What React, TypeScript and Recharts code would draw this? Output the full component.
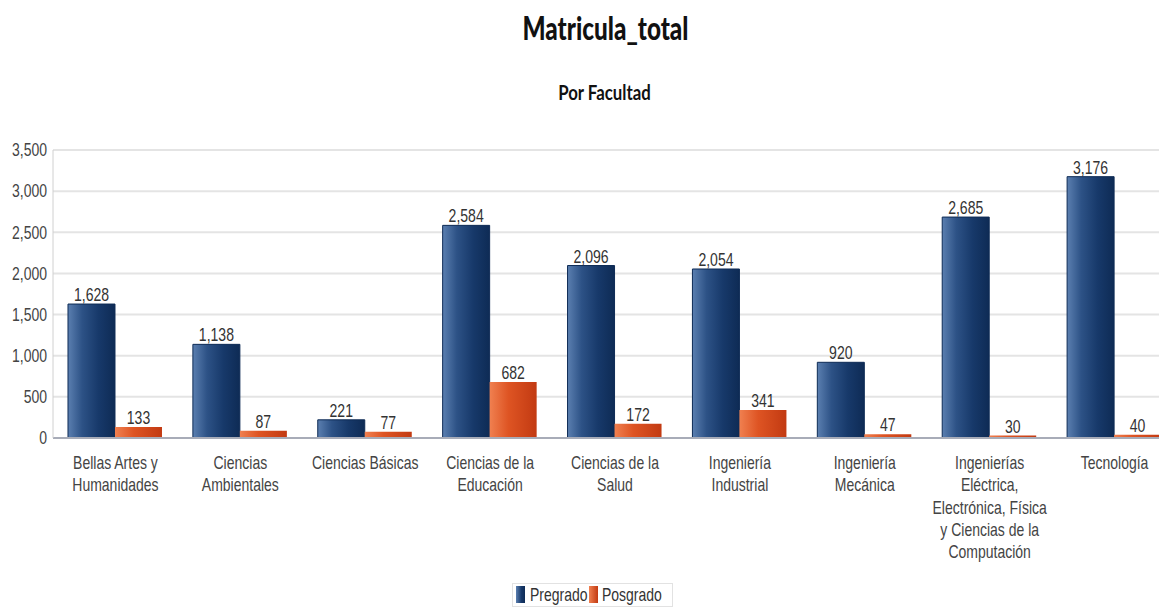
import React from 'react';
import { BarChart, Bar, XAxis, YAxis, CartesianGrid, LabelList, Legend } from 'recharts';

const categories = [
  'Bellas Artes y|Humanidades',
  'Ciencias|Ambientales',
  'Ciencias Básicas',
  'Ciencias de la|Educación',
  'Ciencias de la|Salud',
  'Ingeniería|Industrial',
  'Ingeniería|Mecánica',
  'Ingenierías|Eléctrica,|Electrónica, Física|y Ciencias de la|Computación',
  'Tecnología',
];
const pregrado = [1628, 1138, 221, 2584, 2096, 2054, 920, 2685, 3176];
const posgrado = [133, 87, 77, 682, 172, 341, 47, 30, 40];
const yTicks = [0, 500, 1000, 1500, 2000, 2500, 3000, 3500];

const data = categories.map((c, i) => ({ name: c, Pregrado: pregrado[i], Posgrado: posgrado[i] }));

const FONT = '"Liberation Sans", Arial, sans-serif';
const SX = 0.8;
const fmt = (v: number) => v.toLocaleString('en-US');

const XTick = (props: any) => {
  const { x, y, payload } = props;
  const lines = String(payload.value).split('|');
  return (
    <g transform={`translate(${x},${y}) scale(${SX},1)`}>
      <text x={0} y={23} textAnchor="middle" fill="#444" fontSize={17.5} fontFamily={FONT}>
        {lines.map((l: string, i: number) => (
          <tspan key={i} x={0} dy={i === 0 ? 0 : 22.3}>{l}</tspan>
        ))}
      </text>
    </g>
  );
};

const YTick = (props: any) => {
  const { x, y, payload } = props;
  return (
    <g transform={`translate(${x},${y}) scale(${SX},1)`}>
      <text x={0} y={0} dy="0.36em" textAnchor="end" fill="#444" fontSize={17.5} fontFamily={FONT}>
        {fmt(payload.value)}
      </text>
    </g>
  );
};

const BarLabel = (props: any) => {
  const { x, y, width, value } = props;
  return (
    <g transform={`translate(${Number(x) + Number(width) / 2},${Number(y) - 3}) scale(0.78,1)`}>
      <text x={0} y={0} textAnchor="middle" fill="#333" fontSize={18} fontFamily={FONT}>
        {fmt(Number(value))}
      </text>
    </g>
  );
};

const LegendContent = () => (
  <svg width={1151} height={30} style={{ display: 'block' }}>
    <rect x={504.5} y={0.5} width={160} height={23} fill="#fff" stroke="#e2e2e2" />
    <rect x={508} y={3} width={9} height={17} fill="url(#gPreL)" />
    <g transform={`translate(522,18) scale(${SX},1)`}>
      <text x={0} y={0} fill="#333" fontSize={17.5} fontFamily={FONT}>Pregrado</text>
    </g>
    <rect x={581} y={3} width={9} height={17} fill="url(#gPosL)" />
    <g transform={`translate(594,18) scale(${SX},1)`}>
      <text x={0} y={0} fill="#333" fontSize={17.5} fontFamily={FONT}>Posgrado</text>
    </g>
    <defs>
      <linearGradient id="gPreL" x1="0" y1="0" x2="1" y2="0">
        <stop offset="0%" stopColor="#5b7fb0" />
        <stop offset="60%" stopColor="#17396a" />
        <stop offset="100%" stopColor="#0e2b55" />
      </linearGradient>
      <linearGradient id="gPosL" x1="0" y1="0" x2="1" y2="0">
        <stop offset="0%" stopColor="#f08050" />
        <stop offset="100%" stopColor="#c23a12" />
      </linearGradient>
    </defs>
  </svg>
);

export default function App() {
  return (
    <div style={{ position: 'relative', width: 1151, height: 605, overflow: 'hidden', background: '#fff' }}>
      <svg width={1151} height={110} style={{ position: 'absolute', top: 0, left: 0, pointerEvents: 'none' }}>
        <g transform="translate(597.5,32) scale(0.76,1)">
          <text x={0} y={0} textAnchor="middle" fill="#111" fontSize={32} fontWeight={900} fontFamily='Lato, "Open Sans", sans-serif'>Matricula_total</text>
        </g>
        <g transform="translate(596.5,92) scale(0.8,1)">
          <text x={0} y={0} textAnchor="middle" fill="#111" fontSize={21} fontWeight={700} fontFamily='Lato, "Open Sans", sans-serif'>Por Facultad</text>
        </g>
      </svg>
      <BarChart width={1200} height={605} data={data} margin={{ top: 142, right: 31, left: 0, bottom: 0 }} barCategoryGap="12%" barGap={0}>
        <defs>
          <linearGradient id="gPre" x1="0" y1="0" x2="1" y2="0">
            <stop offset="0%" stopColor="#5b7fb0" />
            <stop offset="30%" stopColor="#2d5286" />
            <stop offset="65%" stopColor="#17396a" />
            <stop offset="100%" stopColor="#0e2b55" />
          </linearGradient>
          <linearGradient id="gPos" x1="0" y1="0" x2="1" y2="0">
            <stop offset="0%" stopColor="#f08050" />
            <stop offset="40%" stopColor="#de5423" />
            <stop offset="100%" stopColor="#c23a12" />
          </linearGradient>
        </defs>
        <CartesianGrid vertical={false} stroke="#e4e4e4" strokeWidth={2} />
        <XAxis dataKey="name" interval={0} tick={<XTick />} tickLine={false} axisLine={{ stroke: '#a8acb8', strokeWidth: 2 }} height={145} />
        <YAxis width={45} domain={[0, 3500]} ticks={yTicks} tickLine={false} tickSize={6} tickMargin={0}
          axisLine={{ stroke: '#d0d0d0' }} tick={<YTick />} />
        <Legend height={30} content={<LegendContent />} />
        <Bar dataKey="Pregrado" fill="url(#gPre)" stroke="#0e2b55" strokeWidth={1} isAnimationActive={false}>
          <LabelList dataKey="Pregrado" content={<BarLabel />} />
        </Bar>
        <Bar dataKey="Posgrado" fill="url(#gPos)" isAnimationActive={false}>
          <LabelList dataKey="Posgrado" content={<BarLabel />} />
        </Bar>
      </BarChart>
    </div>
  );
}
